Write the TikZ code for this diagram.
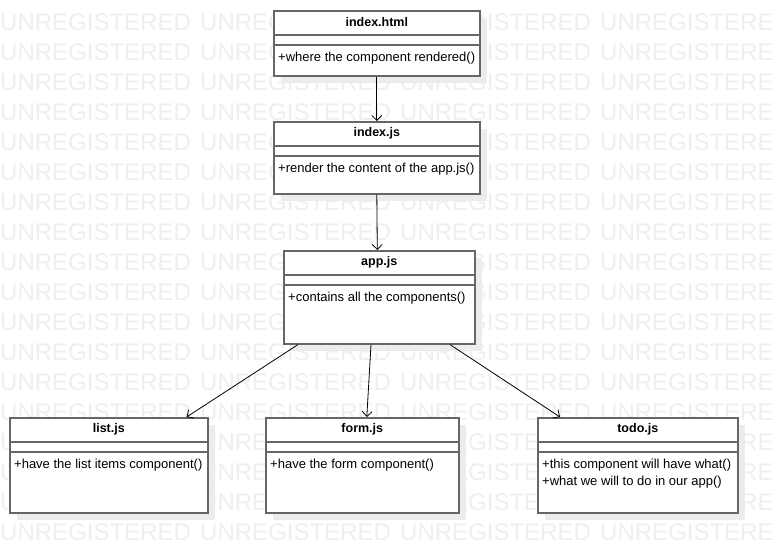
\documentclass[tikz,border=0pt]{standalone}
\usepackage{fontspec}
\setmainfont{Liberation Sans}
\usetikzlibrary{calc,arrows.meta,shadows}

\definecolor{wmgray}{RGB}{239,239,239}
\definecolor{boxedge}{RGB}{102,102,102}
\definecolor{shadowgray}{RGB}{236,236,236}

\tikzset{
  classbox/.style={draw=boxedge, line width=1.6pt, fill=white, rectangle, inner sep=0pt,
    anchor=north west,
    drop shadow={shadow xshift=7pt, shadow yshift=-7pt, fill=shadowgray, opacity=1}},
  classline/.style={draw=boxedge, line width=1.6pt},
  classtitle/.style={font=\fontsize{12.5}{14}\selectfont\bfseries, inner sep=0pt, anchor=center},
  classops/.style={font=\fontsize{13}{16.5}\selectfont, inner sep=0pt, anchor=north west, align=left},
  assoc/.style={draw=black, line width=0.8pt, -{Straight Barb[length=5pt,width=10pt,line width=0.8pt]}},
  watermark/.style={font=\fontsize{24}{24}\selectfont, text=wmgray, inner sep=0pt, anchor=west}
}

% \umlclass{name}{x}{y}{width}{height}{title}{operations}
\newcommand\umlclass[7]{%
  \node[classbox, minimum width=#4pt, minimum height=#5pt] (#1) at (#2,#3) {};
  \node[classtitle] (#1-title) at ($(#1.north)+(0,12.5)$) {#6};
  \draw[classline] ($(#1.north west)+(0,25)$) -- ($(#1.north east)+(0,25)$);
  \draw[classline] ($(#1.north west)+(0,35)$) -- ($(#1.north east)+(0,35)$);
  \node[classops] (#1-ops) at ($(#1.north west)+(5,42)$) {#7};
}

\begin{document}
\begin{tikzpicture}[x=1pt,y=-1pt]
  \useasboundingbox (0,0) rectangle (775,554);
  \fill[white] (0,0) rectangle (775,554);

  % background watermark rows
  \foreach \r in {0,...,17}{
    \foreach \c in {0,...,3}{
      \node[watermark] (wm-\r-\c) at (200*\c, 22+30*\r) {UNREGISTERED};
    }
  }

  % classes
  \umlclass{indexhtml}{273}{10}{206}{65}{index.html}{+where the component rendered()}
  \umlclass{indexjs}{273}{121}{206}{72}{index.js}{+render the content of the app.js()}
  \umlclass{appjs}{283}{250}{191}{93}{app.js}{+contains all the components()}
  \umlclass{listjs}{9}{417}{198}{95}{list.js}{+have the list items component()}
  \umlclass{formjs}{265}{417}{193}{95}{form.js}{+have the form component()}
  \umlclass{todojs}{537}{417}{200}{95}{todo.js}{+this component will have what()\\+what we will to do in our app()}

  % connectors
  \draw[assoc] (indexhtml.south) -- (indexjs.north);
  \draw[assoc] (indexjs.south) -- ($(appjs.north)+(-2,0)$);
  \draw[assoc] ($(appjs.south west)+(15,0)$) -- ($(listjs.north east)+(-22,0)$);
  \draw[assoc] ($(appjs.south west)+(88,0)$) -- ($(formjs.north)+(4.5,0)$);
  \draw[assoc] ($(appjs.south west)+(167,0)$) -- ($(todojs.north west)+(23,0)$);
\end{tikzpicture}
\end{document}
